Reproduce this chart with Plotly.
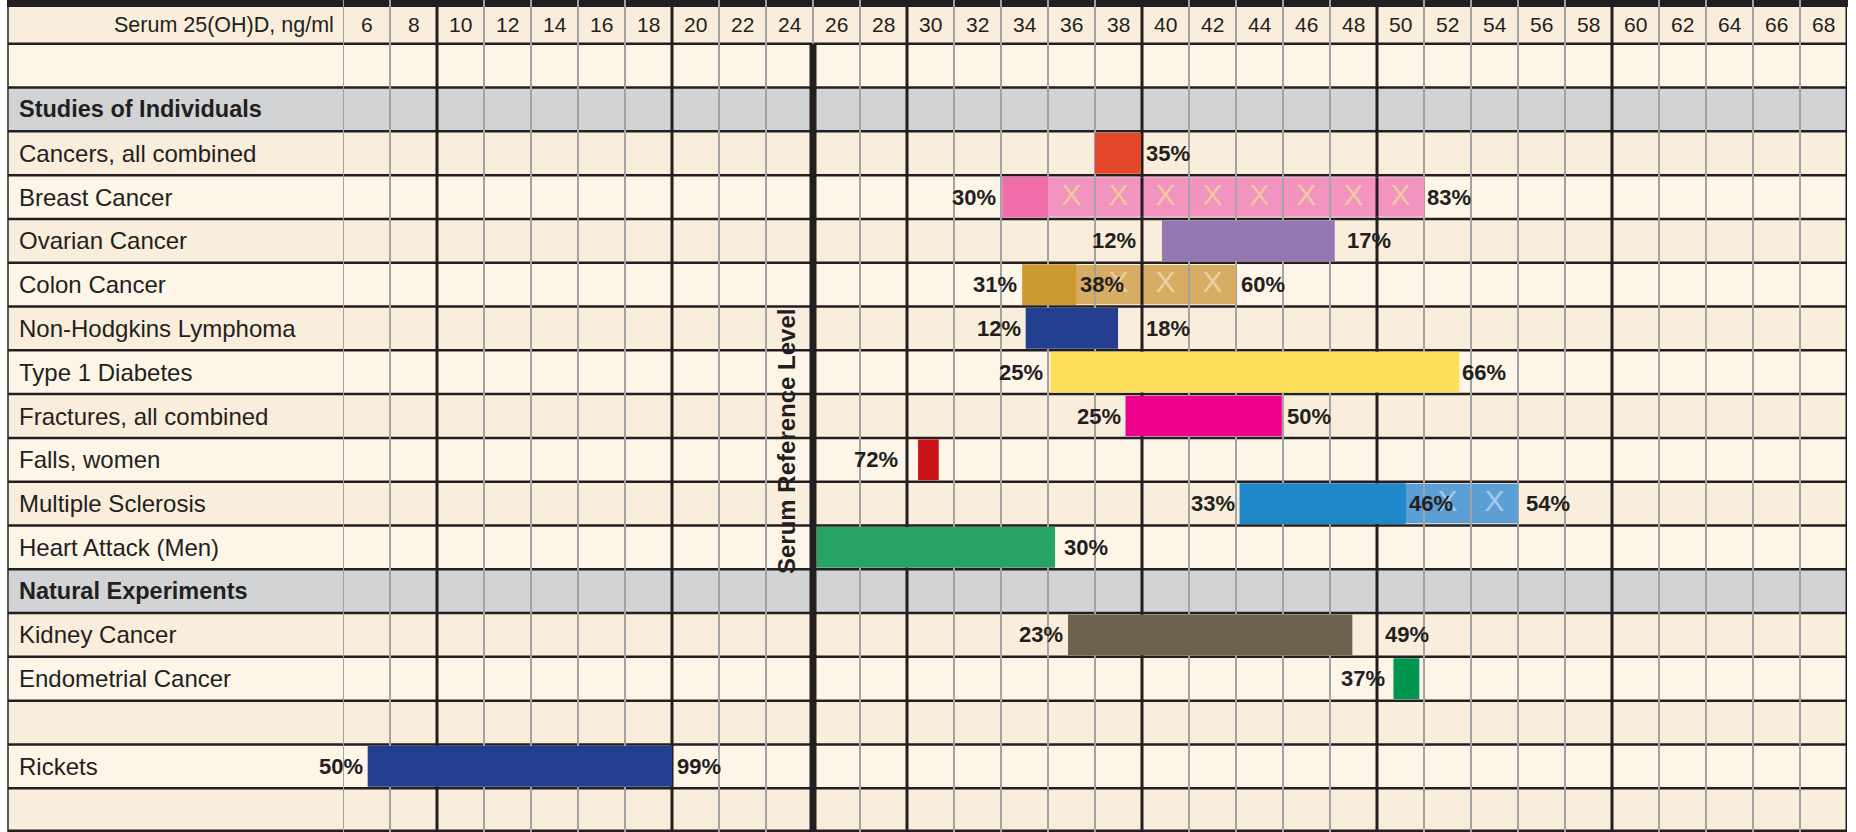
import plotly.graph_objects as go
import numpy as np

# ---------------- data ----------------
row_labels = ["", "", "Studies of Individuals", "Cancers, all combined", "Breast Cancer",
              "Ovarian Cancer", "Colon Cancer", "Non-Hodgkins Lymphoma", "Type 1 Diabetes",
              "Fractures, all combined", "Falls, women", "Multiple Sclerosis",
              "Heart Attack (Men)", "Natural Experiments", "Kidney Cancer",
              "Endometrial Cancer", "", "Rickets", ""]
group_rows = ["Studies of Individuals", "Natural Experiments"]
header_label = "Serum 25(OH)D, ng/ml"
tick_labels = [str(v) for v in range(6, 70, 2)]
reference_level = 26
reference_label = "Serum Reference Level"

conditions = ["Cancers, all combined", "Breast Cancer", "Ovarian Cancer", "Colon Cancer",
              "Non-Hodgkins Lymphoma", "Type 1 Diabetes", "Fractures, all combined",
              "Falls, women", "Multiple Sclerosis", "Heart Attack (Men)", "Kidney Cancer",
              "Endometrial Cancer", "Rickets"]
bar_start = [38.0, 34.05, 40.85, 34.9, 35.05, 36.1, 39.3, 30.47, 44.15, 26.15, 36.85, 50.7, 7.05]
bar_end = [39.95, 36.0, 48.2, 37.2, 38.98, 53.5, 45.95, 31.35, 51.23, 36.3, 48.95, 51.8, 20.0]
left_pct = ["", "30%", "12%", "31%", "12%", "25%", "25%", "72%", "33%", "", "23%", "37%", "50%"]
right_pct = ["35%", "", "17%", "38%", "18%", "66%", "50%", "", "46%", "30%", "49%", "", "99%"]

ext_conditions = ["Breast Cancer", "Colon Cancer", "Multiple Sclerosis"]
ext_start = [36, 36, 50]
ext_end = [52, 44, 56]
ext_pct = ["83%", "60%", "54%"]

# ---------------- styles ----------------
W, H = 1856, 832
X_LEFT, X_RIGHT = 343, 1847
BORDER_L = 8
bar_colors = ["#e4472a", "#f06ea9", "#9477b3", "#cd9b32", "#243f8f", "#ffe05c", "#ec008c",
              "#cc1219", "#1f88c9", "#27a363", "#6b634b", "#00964f", "#243f8f"]
ext_colors = ["#f393bf", "#d6ad63", "#5c9fd4"]
ext_x_colors = ["#ecc9a0", "#ead0a4", "#a9c9ea"]
left_shift = {"Ovarian Cancer": 26, "Falls, women": 20, "Endometrial Cancer": 8,
              "Breast Cancer": 6, "Type 1 Diabetes": 7}
right_shift = {"Non-Hodgkins Lymphoma": 28, "Kidney Cancer": 33, "Ovarian Cancer": 12,
               "Heart Attack (Men)": 9, "Colon Cancer": 4, "Type 1 Diabetes": 3,
               "Multiple Sclerosis": 3}
ext_right_shift = {"Multiple Sclerosis": 8, "Breast Cancer": 3}
cream_dark = "#f9eddb"
cream_light = "#fdf5e8"
gray_row = "#d1d3d4"
grid_gray = "#a3a3a3"
grid_dark = "#231f20"
text_color = "#231f20"
FONT = "Liberation Sans, Arial, sans-serif"
NARROW = "Liberation Sans Narrow, Arial Narrow, Liberation Sans, Arial, sans-serif"

row_index = {lab: i for i, lab in enumerate(row_labels) if lab}
n_rows = len(row_labels)

fig = go.Figure()

# extension bars (drawn first -> below the solid bars)
fig.add_trace(go.Bar(
    orientation="h", y=[row_index[c] for c in ext_conditions],
    x=[e - s for s, e in zip(ext_start, ext_end)], base=ext_start,
    width=0.9, marker=dict(color=ext_colors, line_width=0), hoverinfo="skip"))
# solid bars
fig.add_trace(go.Bar(
    orientation="h", y=[row_index[c] for c in conditions],
    x=[e - s for s, e in zip(bar_start, bar_end)], base=bar_start,
    width=0.93, marker=dict(color=bar_colors, line_width=0), hoverinfo="skip"))

# X marks in the extension bands (column centres not covered by the solid bar)
xs, ys, xc = [], [], []
for c, s, e, col in zip(ext_conditions, ext_start, ext_end, ext_x_colors):
    k = conditions.index(c)
    for cx in np.arange(s + 1, e, 2):
        if bar_start[k] <= cx <= bar_end[k]:
            continue
        xs.append(cx); ys.append(row_index[c]); xc.append(col)
fig.add_trace(go.Scatter(x=xs, y=ys, mode="text", text=["X"] * len(xs),
                         textfont=dict(family=FONT, size=30, color=xc),
                         textposition="middle center", hoverinfo="skip"))

shapes = []
xl, xr = BORDER_L / W, X_RIGHT / W
# row backgrounds
shade = 0
for i, lab in enumerate(row_labels):
    if lab in group_rows:
        fill = gray_row
        shade = 0
    else:
        fill = cream_dark if shade % 2 == 0 else cream_light
        shade += 1
    shapes.append(dict(type="rect", xref="paper", yref="y", x0=xl, x1=xr, y0=i - 0.5, y1=i + 0.5,
                       fillcolor=fill, line_width=0, layer="below"))
# vertical grid lines
for v in range(6, 72, 2):
    dark = (v % 10 == 0) or v == 70
    shapes.append(dict(type="line", xref="x", yref="y", x0=v, x1=v, y0=-0.5, y1=n_rows - 0.5,
                       line=dict(color=grid_dark if dark else grid_gray, width=3 if dark else 2),
                       layer="below"))
# left border
shapes.append(dict(type="line", xref="paper", yref="y", x0=xl, x1=xl, y0=-0.5, y1=n_rows - 0.5,
                   line=dict(color="#5a5a5a", width=2), layer="below"))
# horizontal lines
for i in range(n_rows):
    shapes.append(dict(type="line", xref="paper", yref="y", x0=xl, x1=xr, y0=i + 0.5, y1=i + 0.5,
                       line=dict(color=grid_dark, width=2.5 if i < n_rows - 1 else 5), layer="below"))
# top black band
shapes.append(dict(type="rect", xref="paper", yref="paper", x0=xl - 1 / W, x1=xr + 1 / W,
                   y0=1 - 7 / H, y1=1, fillcolor=grid_dark, line_width=0, layer="below"))
# grid lines visible through extension bands
for c, s, e in zip(ext_conditions, ext_start, ext_end):
    k = conditions.index(c)
    r = row_index[c]
    for v in range(int(s) + 2, int(e), 2):
        if bar_start[k] <= v <= bar_end[k]:
            continue
        dark = v % 10 == 0
        shapes.append(dict(type="line", xref="x", yref="y", x0=v, x1=v, y0=r - 0.45, y1=r + 0.45,
                           line=dict(color=grid_dark if dark else grid_gray, width=3 if dark else 2),
                           layer="above"))
# reference level line
shapes.append(dict(type="line", xref="x", yref="y", x0=reference_level, x1=reference_level,
                   y0=0.5, y1=n_rows - 0.5, line=dict(color=grid_dark, width=7), layer="above"))

ann = []
base_ann = dict(showarrow=False, borderpad=0, borderwidth=0)
# row labels
for i, lab in enumerate(row_labels):
    if not lab:
        continue
    bold = lab in group_rows
    ann.append(dict(base_ann, xref="paper", yref="y", x=19 / W, y=i, xanchor="left", yanchor="middle",
                    text=f"<b>{lab}</b>" if bold else lab,
                    font=dict(family=FONT, size=23.5 if bold else 24, color=text_color)))
# header
ann.append(dict(base_ann, xref="paper", yref="y", x=334 / W, y=0, xanchor="right", yanchor="middle",
                yshift=-3, text=header_label, font=dict(family=FONT, size=21.5, color=text_color)))
for t in tick_labels:
    v = int(t)
    ann.append(dict(base_ann, xref="x", yref="y", x=v + 1, y=0, xanchor="center", yanchor="middle",
                    yshift=-3, text=t, font=dict(family=FONT, size=21, color=text_color)))
# percent labels
pfont = dict(family=NARROW, size=22, color=text_color)
for c, s, e, lp, rp in zip(conditions, bar_start, bar_end, left_pct, right_pct):
    r = row_index[c]
    if lp:
        ann.append(dict(base_ann, xref="x", yref="y", x=s, y=r, xanchor="right", yanchor="middle",
                        xshift=-left_shift.get(c, 5), text=f"<b>{lp}</b>", font=pfont))
    if rp:
        ann.append(dict(base_ann, xref="x", yref="y", x=e, y=r, xanchor="left", yanchor="middle",
                        xshift=right_shift.get(c, 5), text=f"<b>{rp}</b>", font=pfont))
for c, e, p in zip(ext_conditions, ext_end, ext_pct):
    ann.append(dict(base_ann, xref="x", yref="y", x=e, y=row_index[c], xanchor="left", yanchor="middle",
                    xshift=ext_right_shift.get(c, 5), text=f"<b>{p}</b>", font=pfont))
# reference level label
ann.append(dict(base_ann, xref="x", yref="y", x=reference_level - 1.1, y=9.59, xanchor="center",
                yanchor="middle", textangle=-90, text=f"<b>{reference_label}</b>",
                font=dict(family=FONT, size=24, color=text_color)))

fig.update_layout(
    width=W, height=H, autosize=False,
    margin=dict(l=0, r=0, t=0, b=0, pad=0),
    paper_bgcolor="white", plot_bgcolor="rgba(0,0,0,0)",
    barmode="overlay", showlegend=False,
    xaxis=dict(domain=[X_LEFT / W, X_RIGHT / W], range=[6, 70], visible=False, fixedrange=True),
    yaxis=dict(domain=[0, 1], range=[n_rows - 0.5, -0.5], visible=False, fixedrange=True),
    shapes=shapes, annotations=ann,
)

fig.write_html("out.html", config={"displayModeBar": False},
               post_script="document.body.style.margin='0';document.body.style.overflow='hidden';")
